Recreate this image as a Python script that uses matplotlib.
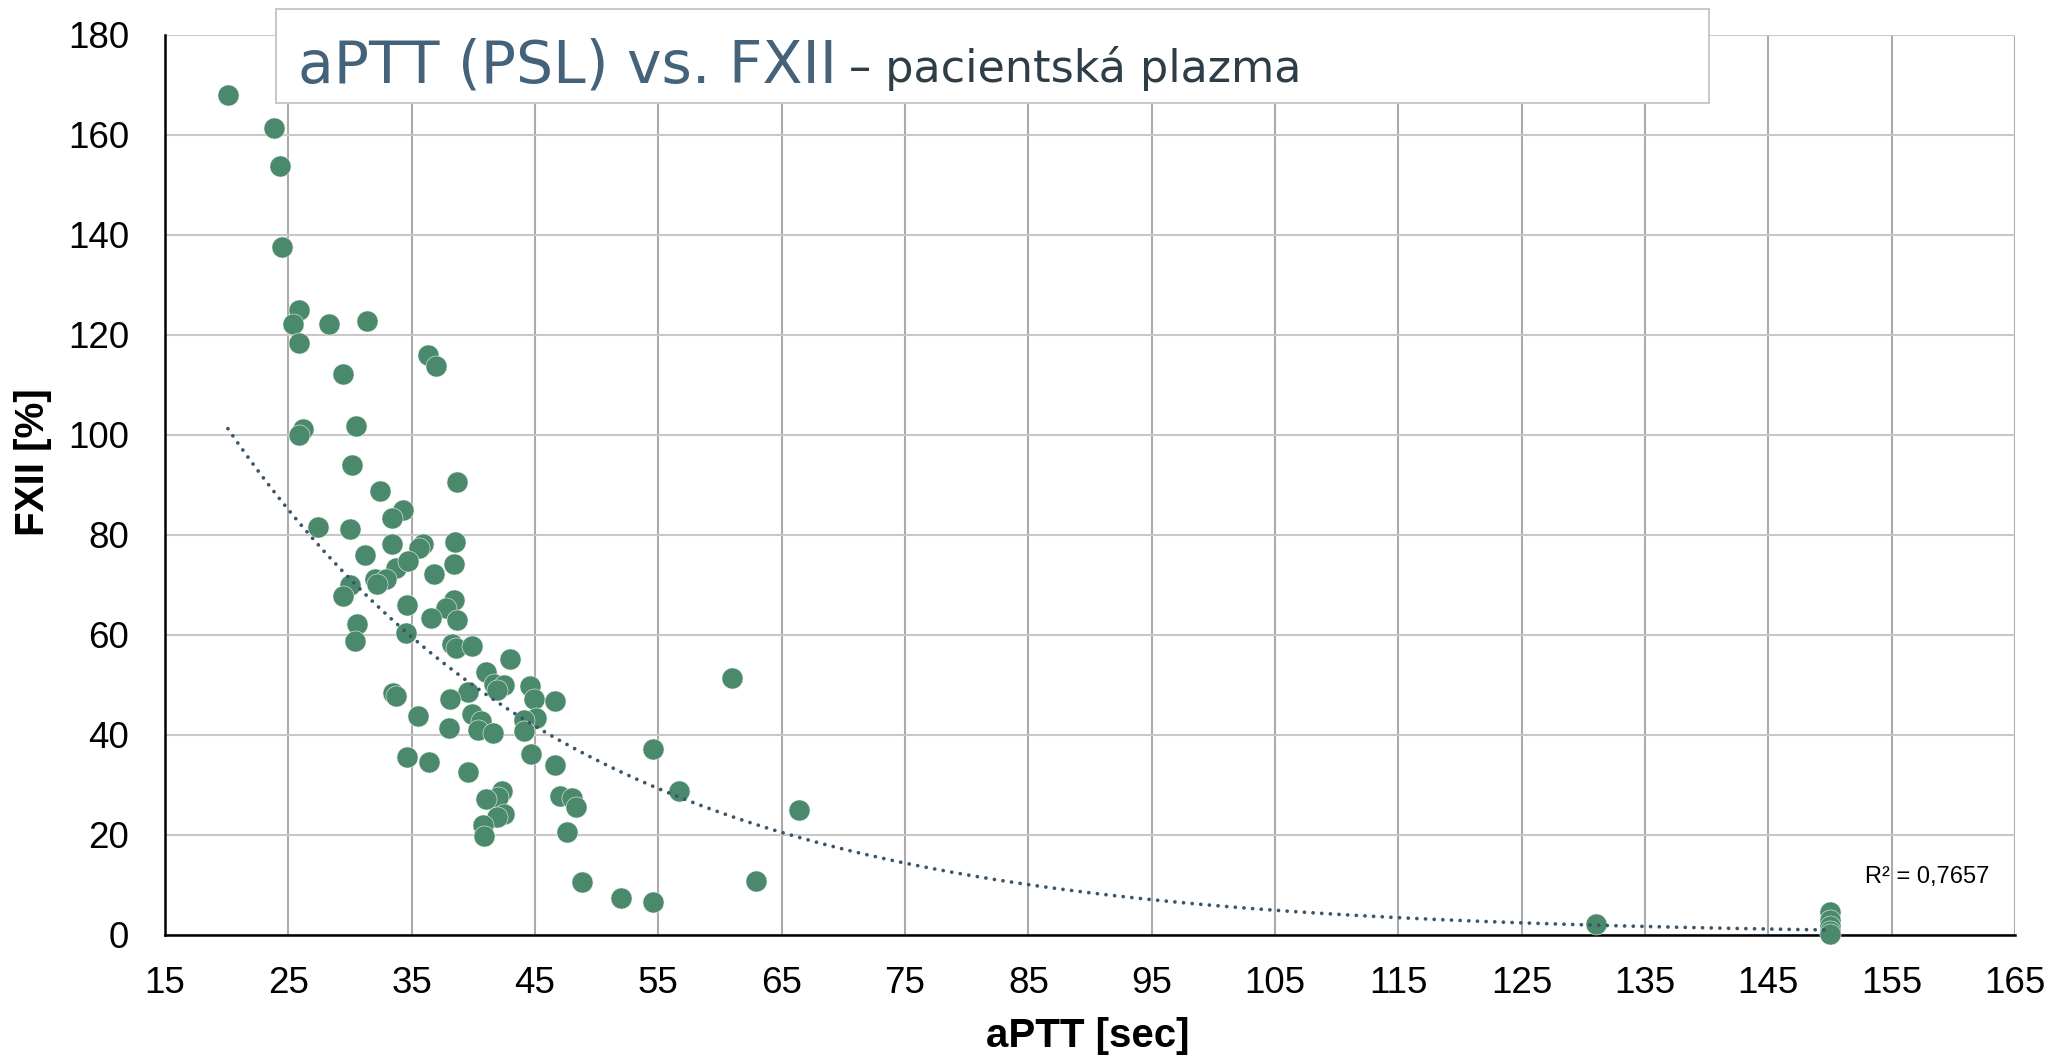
import numpy as np
import matplotlib
matplotlib.use("Agg")
import matplotlib.pyplot as plt
from matplotlib.patches import Rectangle

# aPTT [sec] a FXII [%]
aptt = [20.1, 23.8, 24.3, 24.5, 25.9, 25.4, 28.3, 31.4, 25.9, 36.3, 37.0, 29.4,
        26.2, 25.9, 30.5, 30.2, 32.4, 34.3, 33.4, 38.7, 27.4, 30.0, 33.4, 35.9,
        35.6, 38.5, 31.2, 33.7, 34.7, 38.4, 36.8, 32.0, 32.9, 32.2, 30.0, 29.4,
        38.4, 37.8, 34.6, 36.6, 38.7, 30.6, 34.5, 30.4, 38.3, 38.6, 39.9, 43.0,
        41.0, 41.7, 42.5, 41.9, 44.6, 44.9, 46.6, 39.6, 33.5, 33.7, 38.1, 35.5,
        39.9, 40.6, 45.1, 44.1, 44.1, 38.0, 40.4, 41.6, 54.6, 44.7, 34.6, 36.4,
        46.6, 39.6, 56.7, 42.3, 42.0, 41.0, 47.0, 48.0, 48.3, 42.5, 41.9, 40.8,
        40.9, 47.6, 48.8, 52.0, 54.6, 61.0, 66.4, 62.9, 131.0,
        150.0, 150.0, 150.0, 150.0, 150.0]
fxii = [168.0, 161.5, 153.9, 137.7, 125.1, 122.3, 122.3, 122.9, 118.5, 116.0, 113.8, 112.3,
        101.3, 100.0, 101.8, 94.1, 88.9, 85.1, 83.5, 90.6, 81.7, 81.2, 78.3, 78.3,
        77.5, 78.7, 76.0, 73.5, 74.8, 74.3, 72.3, 71.2, 71.3, 70.3, 70.0, 67.8,
        67.1, 65.5, 66.0, 63.5, 63.0, 62.2, 60.5, 58.9, 58.3, 57.5, 57.8, 55.3,
        52.7, 50.3, 50.0, 49.0, 49.8, 47.2, 46.9, 48.7, 48.5, 47.9, 47.3, 43.9,
        44.2, 42.9, 43.5, 43.0, 40.8, 41.4, 41.1, 40.5, 37.3, 36.3, 35.7, 34.6,
        34.1, 32.7, 28.9, 28.9, 27.7, 27.3, 27.8, 27.5, 25.7, 24.3, 23.7, 22.0,
        19.9, 20.7, 10.6, 7.5, 6.7, 51.5, 25.0, 10.8, 2.3,
        4.6, 3.0, 1.8, 0.9, 0.2]

# exponenciální trend (y = a*e^(b*x)), koeficienty odečtené z křivky
trend_a = 206.9
trend_b = -0.03555
r2_text = "R² = 0,7657"

x_ticks = list(range(15, 166, 10))
y_ticks = list(range(0, 181, 20))

green = "#4a896b"
trend_col = "#3b566b"

fig = plt.figure(figsize=(20.54, 10.57), dpi=100)
ax = fig.add_axes([165 / 2054, 1 - 935 / 1057, 1850 / 2054, 900 / 1057])

ax.set_xlim(15, 165)
ax.set_ylim(0, 180)
ax.set_xticks(x_ticks)
ax.set_yticks(y_ticks)

# mřížka - svislé tmavší, vodorovné světlejší
for xv in x_ticks:
    ax.axvline(xv, color="#ababab", lw=1.5, zorder=0)
for yv in y_ticks:
    ax.axhline(yv, color="#c8c8c8", lw=1.5, zorder=0)

for s in ["top", "right"]:
    ax.spines[s].set_visible(False)
for s in ["left", "bottom"]:
    ax.spines[s].set_color("black")
    ax.spines[s].set_linewidth(1.8)
    ax.spines[s].set_zorder(3)

ax.tick_params(length=0, labelsize=26.5, pad=22)
ax.tick_params(axis="y", pad=26)
for lab in ax.get_xticklabels() + ax.get_yticklabels():
    lab.set_family("Liberation Sans")

ax.scatter(aptt, fxii, s=230, color=green, edgecolor="#eef4f1", linewidth=0.4,
           zorder=4, clip_on=False)

xt = np.linspace(min(aptt), max(aptt), 300)
ax.plot(xt, trend_a * np.exp(trend_b * xt), color=trend_col, lw=2.7,
        linestyle=(0, (0.01, 2.3)), dash_capstyle="round", zorder=5)

ax.text(152.8, 9.4, r2_text, fontsize=17, family="Liberation Sans", ha="left", va="bottom")

# popisky os
lab_font = ["Liberation Sans Narrow", "Liberation Sans"]
fig.text(1088 / 2054, 1 - 1036 / 1057, "aPTT [sec]", fontsize=29, fontweight="bold",
         family=lab_font, ha="center", va="center")
fig.text(33 / 2054, 1 - 462 / 1057, "FXII [%]", fontsize=29, fontweight="bold",
         family=lab_font, ha="center", va="center", rotation=90)

# rámeček s titulkem
box = Rectangle((276 / 2054, 1 - 103 / 1057), 1433 / 2054, 94 / 1057,
                transform=fig.transFigure, facecolor="white", edgecolor="#c8c8c8",
                lw=1.4, zorder=10)
fig.add_artist(box)
t1 = fig.text(298 / 2054, 1 - 82 / 1057, "aPTT (PSL) vs. FXII", fontsize=42,
              color="#44637a", family="DejaVu Sans", ha="left", va="baseline", zorder=11)
fig.canvas.draw()
ext = t1.get_window_extent()
fig.text((ext.x1 + 12) / 2054, 1 - 82 / 1057, "– pacientská plazma", fontsize=32,
         color="#2e3e48", family="DejaVu Sans", ha="left", va="baseline", zorder=11)

fig.savefig("out.png", dpi=100)
